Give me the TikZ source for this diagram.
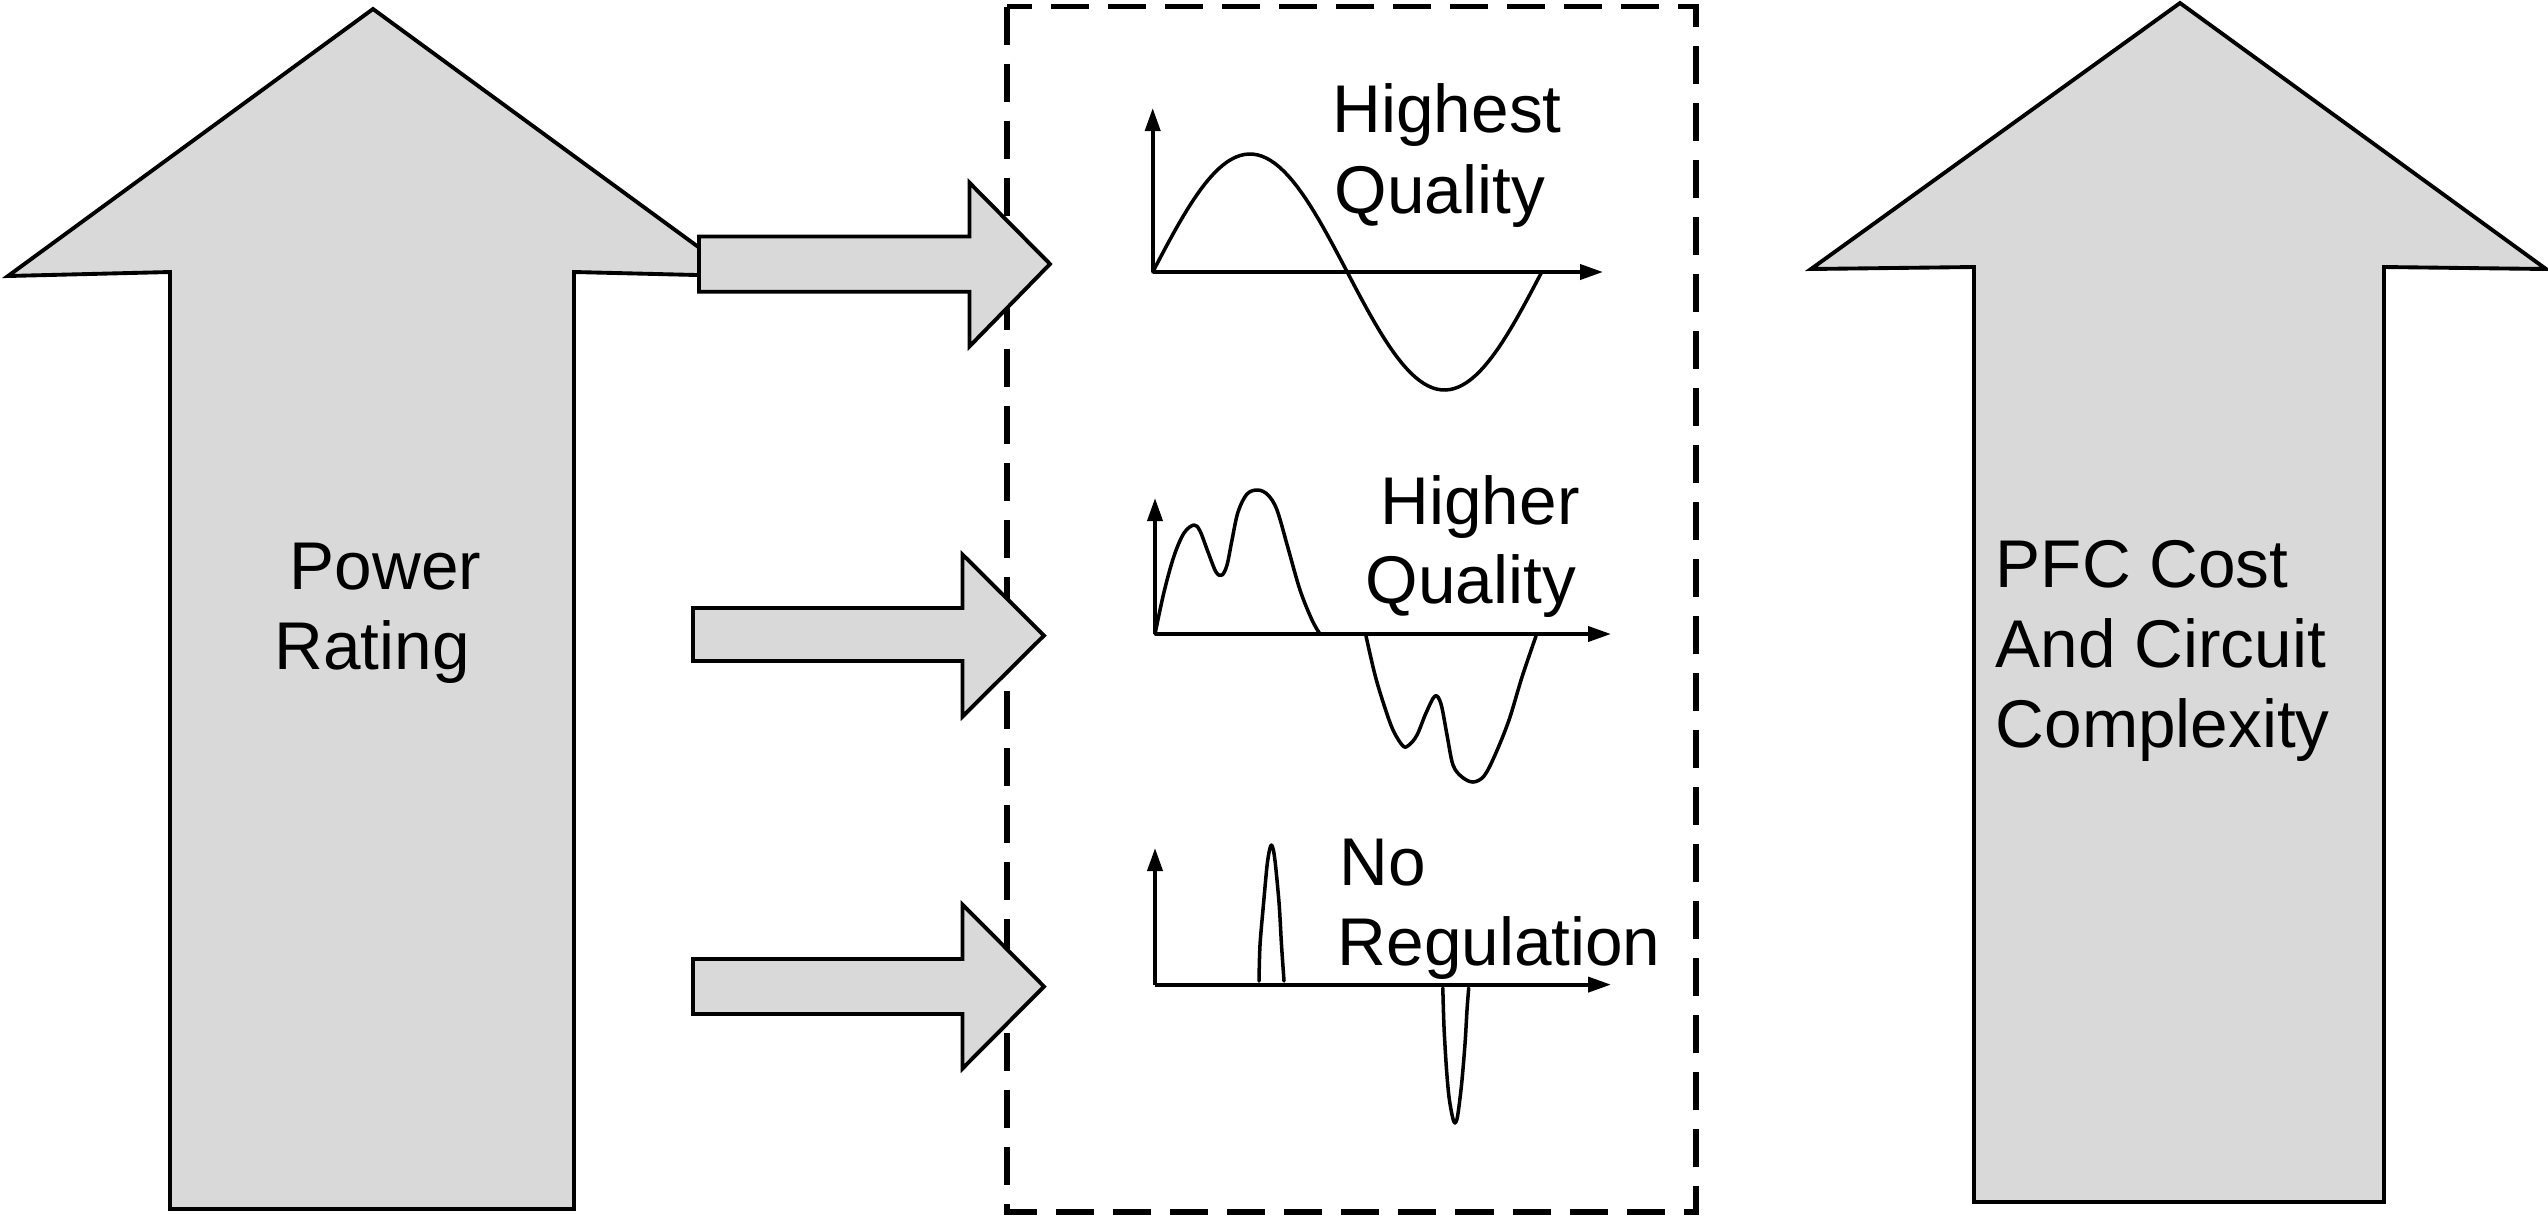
\documentclass[tikz,border=0pt]{standalone}
\usepackage{fontspec}
\setmainfont{Liberation Sans}
\usetikzlibrary{arrows.meta}
\definecolor{arrowgray}{RGB}{217,217,217}
\begin{document}
\begin{tikzpicture}[x=0.01cm,y=-0.01cm,
  blockarrow/.style={fill=arrowgray,draw=black,line width=1.1pt,line join=miter},
  framebox/.style={draw=black,line width=1.5pt,dash pattern=on 0.38cm off 0.19cm},
  axisline/.style={draw=black,line width=1.1pt,-{Triangle[length=0.23cm,width=0.15cm]}},
  wave/.style={draw=black,line width=1pt,line join=round,line cap=round},
  lbl/.style={inner sep=0pt,anchor=base west,font=\fontsize{19.2pt}{23pt}\selectfont}]
\useasboundingbox (0,0) rectangle (2548,1220);

% dashed frame
\draw[framebox] (1007,6.5) rectangle (1696,1212);

% big left arrow
\draw[blockarrow] (373,9) -- (738,276) -- (574,272) -- (574,1209) -- (170,1209) -- (170,272) -- (8,276) -- cycle;
% big right arrow
\draw[blockarrow] (2180,3) -- (2546,269) -- (2384,267) -- (2384,1202) -- (1974,1202) -- (1974,267) -- (1811,269) -- cycle;

% small arrows
\draw[blockarrow] (699,236.5) -- (969.5,236.5) -- (969.5,182.7) -- (1050,264) -- (969.5,346.4) -- (969.5,291.8) -- (699,291.8) -- cycle;
\draw[blockarrow] (693,608) -- (962.5,608) -- (962.5,554.5) -- (1044,635.5) -- (962.5,716.5) -- (962.5,661) -- (693,661) -- cycle;
\draw[blockarrow] (693,959) -- (962.5,959) -- (962.5,904.5) -- (1044,986.5) -- (962.5,1068.5) -- (962.5,1014) -- (693,1014) -- cycle;

% texts
\node[lbl] (power) at (289,589) {Power};
\node[lbl] (rating) at (274,669) {Rating};
\node[lbl] (pfc) at (1995,587) {PFC Cost};
\node[lbl] (andc) at (1995,667) {And Circuit};
\node[lbl] (cplx) at (1995,747) {Complexity};
\node[lbl] (highest) at (1332,132.5) {Highest};
\node[lbl] (qual1) at (1334,213.5) {Quality};
\node[lbl] (higher) at (1380,524) {Higher};
\node[lbl] (qual2) at (1365,603) {Quality};
\node[lbl] (no) at (1339,885) {No};
\node[lbl] (regul) at (1337,965) {Regulation};

% waveform 1 : pure sine
\coordinate (o1) at (1152.7,272);
\draw[axisline] (o1) -- (1152.7,108);
\draw[axisline] (o1) -- (1603,272);
\draw[wave] plot[domain=0:389,samples=90] ({1152.7+\x},{272-118*sin(\x/389*360)});

% waveform 2 : distorted
\coordinate (o2) at (1155,634);
\draw[axisline] (o2) -- (1155,498);
\draw[axisline] (o2) -- (1611,634);
\draw[wave] plot[smooth,tension=0.55] coordinates {(1155,634) (1164,592) (1174,556) (1184,533) (1194,525) (1200,531) (1208,552) (1216,572) (1222,575) (1227,565) (1232,540) (1238,512) (1247,494) (1258,490) (1268,495) (1277,510) (1288,548) (1300,590) (1312,620) (1320,634)};
\draw[wave] plot[smooth,tension=0.55] coordinates {(1366,636) (1375,675) (1384,705) (1393,730) (1403,746) (1409,745) (1417,735) (1426,713) (1435,696) (1441,704) (1447,735) (1453,765) (1462,777) (1473,782) (1484,776) (1495,755) (1509,720) (1522,677) (1536,636)};

% waveform 3 : narrow pulses
\coordinate (o3) at (1155,984.6);
\draw[axisline] (o3) -- (1155,848);
\draw[axisline] (o3) -- (1611,984.6);
\draw[wave] plot[smooth,tension=0.5] coordinates {(1259,981) (1260,945) (1263.4,905) (1267,866) (1269.5,850) (1271.4,845) (1273.4,850) (1275.6,866) (1279.2,905) (1281.5,945) (1284,981)};
\draw[wave] plot[smooth,tension=0.5] coordinates {(1442.8,988) (1444,1027) (1446.4,1068) (1449,1097) (1452.5,1117) (1455,1123) (1457.6,1116) (1461.5,1085) (1465,1044) (1467,1010) (1468.7,988)};
\end{tikzpicture}
\end{document}
